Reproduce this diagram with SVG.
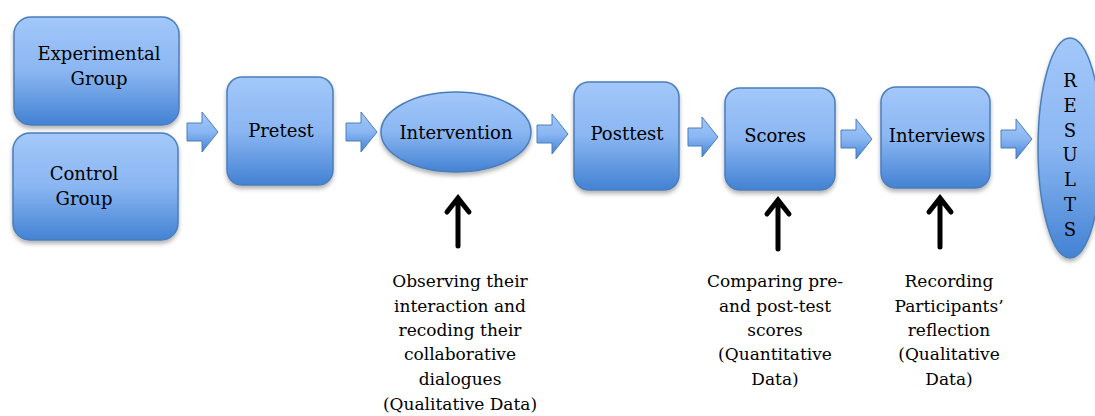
<svg xmlns="http://www.w3.org/2000/svg" width="1095" height="416" viewBox="0 0 1095 416">
<style>
.box{fill:url(#g);stroke:#4A7EBB;stroke-width:1.5;filter:url(#sh)}
.barr{fill:url(#g);stroke:#4A7EBB;stroke-width:1}
.t{font-family:"DejaVu Serif","Liberation Serif",serif;font-size:18px;fill:#000;text-anchor:middle}
.c{font-family:"DejaVu Serif","Liberation Serif",serif;font-size:17px;fill:#000;text-anchor:middle}
.up{stroke:#000;stroke-width:5;fill:none;stroke-linecap:round;stroke-linejoin:miter}
</style>
<defs>
<linearGradient id="g" x1="0" y1="0" x2="0" y2="1">
<stop offset="0" stop-color="#A3C8FA"/>
<stop offset="0.5" stop-color="#8AB6F2"/>
<stop offset="1" stop-color="#4382D3"/>
</linearGradient>
<filter id="sh" x="-10%" y="-10%" width="120%" height="130%">
<feDropShadow dx="0" dy="3" stdDeviation="2" flood-color="#000" flood-opacity="0.3"/>
</filter>
</defs>
<rect width="1095" height="416" fill="#fff"/>
<g id="experimental">
<rect class="box" x="14" y="17" width="165" height="108" rx="17"/>
<text class="t" x="99" y="60">Experimental</text>
<text class="t" x="99" y="85">Group</text>
</g>
<g id="control">
<rect class="box" x="13" y="133" width="165" height="107" rx="17"/>
<text class="t" x="84" y="180">Control</text>
<text class="t" x="84" y="205">Group</text>
</g>
<g id="pretest">
<rect class="box" x="227" y="77" width="106" height="108" rx="15"/>
<text class="t" x="281" y="137">Pretest</text>
</g>
<g id="intervention">
<ellipse class="box" cx="456" cy="132" rx="75" ry="40"/>
<text class="t" x="456" y="139">Intervention</text>
</g>
<g id="posttest">
<rect class="box" x="574" y="82" width="105" height="108" rx="15"/>
<text class="t" x="627" y="140">Posttest</text>
</g>
<g id="scores">
<rect class="box" x="725" y="88" width="110" height="102" rx="15"/>
<text class="t" x="775" y="142">Scores</text>
</g>
<g id="interviews">
<rect class="box" x="881" y="87" width="109" height="101" rx="15"/>
<text class="t" x="937" y="142">Interviews</text>
</g>
<g id="results">
<ellipse class="box" cx="1070" cy="148" rx="32" ry="110"/>
<text class="t" x="1070" y="87">R</text>
<text class="t" x="1070" y="112">E</text>
<text class="t" x="1070" y="137">S</text>
<text class="t" x="1070" y="161">U</text>
<text class="t" x="1070" y="186">L</text>
<text class="t" x="1070" y="211">T</text>
<text class="t" x="1070" y="236">S</text>
</g>
<g id="connectors">
<path class="barr" d="M187,123 H202 V112 L218,132 L202,152 V141 H187 Z"/>
<path class="barr" d="M346,123 H361 V112 L377,132 L361,152 V141 H346 Z"/>
<path class="barr" d="M537,125 H552 V114 L568,134 L552,154 V143 H537 Z"/>
<path class="barr" d="M688,128 H702 V117 L718,137 L702,157 V146 H688 Z"/>
<path class="barr" d="M841,130 H856 V119 L872,139 L856,159 V148 H841 Z"/>
<path class="barr" d="M1001,130 H1016 V119 L1032,139 L1016,159 V148 H1001 Z"/>
<path class="up" d="M458,246 V198 M447,212 L458,198 L469,212"/>
<path class="up" d="M778,249 V200 M767,214 L778,200 L789,214"/>
<path class="up" d="M940,247 V198 M929,212 L940,198 L951,212"/>
</g>
<g id="caption-intervention">
<text class="c" x="460" y="287">Observing their</text>
<text class="c" x="460" y="312">interaction and</text>
<text class="c" x="460" y="336">recoding their</text>
<text class="c" x="460" y="360">collaborative</text>
<text class="c" x="460" y="385">dialogues</text>
<text class="c" x="460" y="410">(Qualitative Data)</text>
</g>
<g id="caption-scores">
<text class="c" x="775" y="287">Comparing pre-</text>
<text class="c" x="775" y="312">and post-test</text>
<text class="c" x="775" y="336">scores</text>
<text class="c" x="775" y="360">(Quantitative</text>
<text class="c" x="775" y="385">Data)</text>
</g>
<g id="caption-interviews">
<text class="c" x="949" y="287">Recording</text>
<text class="c" x="949" y="312">Participants’</text>
<text class="c" x="949" y="336">reflection</text>
<text class="c" x="949" y="360">(Qualitative</text>
<text class="c" x="949" y="385">Data)</text>
</g>
</svg>
